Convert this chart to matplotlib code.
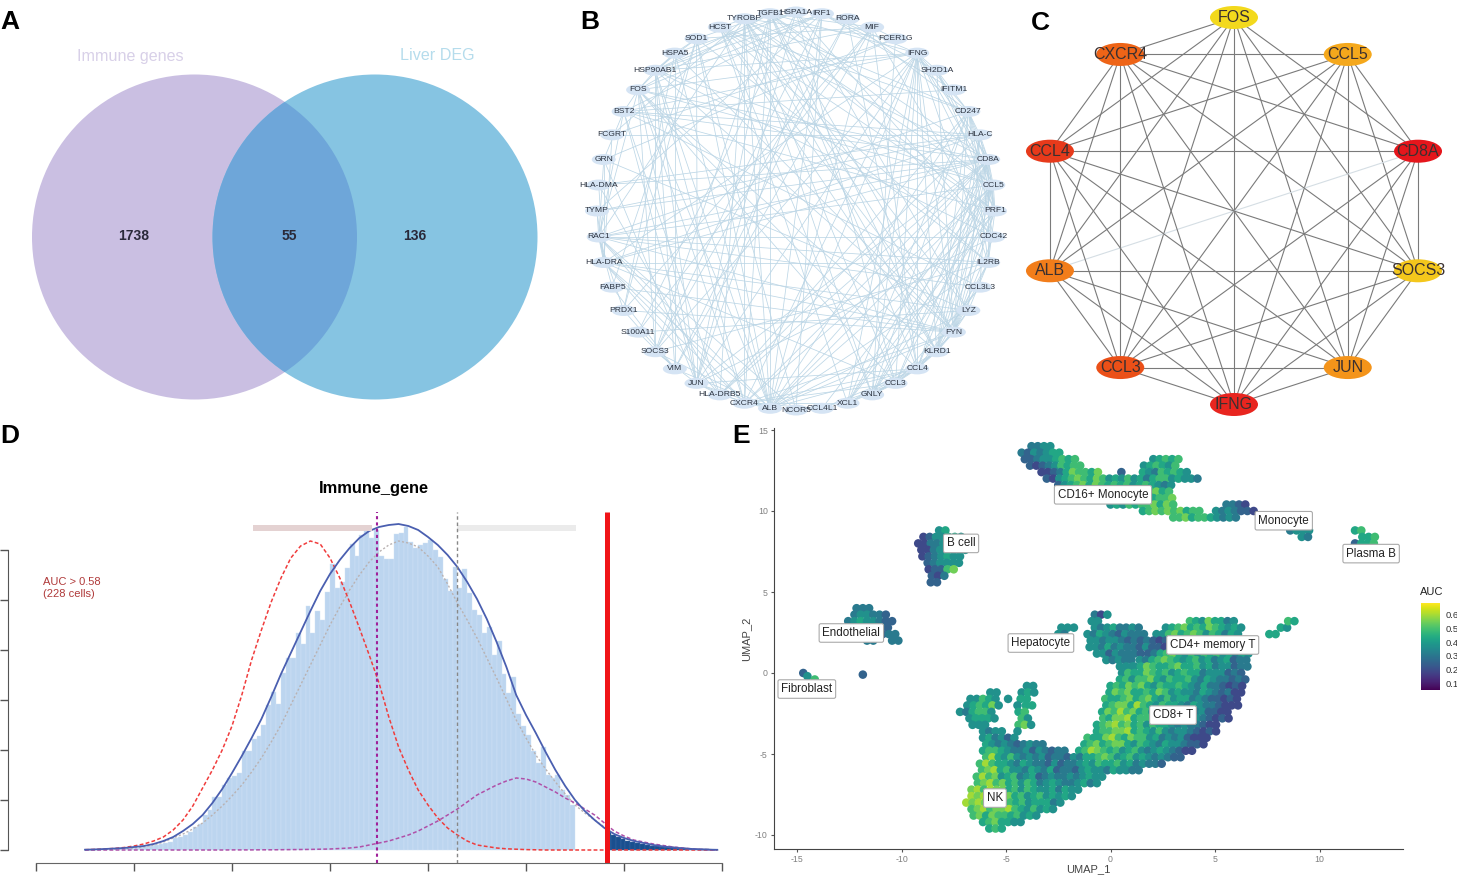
import numpy as np
import matplotlib
matplotlib.use('Agg')
import matplotlib.pyplot as plt
from matplotlib.patches import Circle, Ellipse
from itertools import combinations

plt.rcParams['font.family'] = ['Liberation Sans', 'DejaVu Sans']
plt.rcParams['axes.unicode_minus'] = False

W, H = 1457, 876

# --- A: venn ---
venn_labels = ['Immune genes', 'Liver DEG']
venn_counts = ['1738', '55', '136']

# --- B: PPI network ---
b_genes = ['HSPA1A', 'IRF1', 'RORA', 'MIF', 'FCER1G', 'IFNG', 'SH2D1A', 'IFITM1', 'CD247', 'HLA-C',
           'CD8A', 'CCL5', 'PRF1', 'CDC42', 'IL2RB', 'CCL3L3', 'LYZ', 'FYN', 'KLRD1', 'CCL4',
           'CCL3', 'GNLY', 'XCL1', 'CCL4L1', 'NCOR5', 'ALB', 'CXCR4', 'HLA-DRB5', 'JUN', 'VIM',
           'SOCS3', 'S100A11', 'PRDX1', 'FABP5', 'HLA-DRA', 'RAC1', 'TYMP', 'HLA-DMA', 'GRN', 'FCGRT',
           'BST2', 'FOS', 'HSP90AB1', 'HSPA5', 'SOD1', 'HCST', 'TYROBP', 'TGFB1']
b_edges = {
    'ALB': ['CXCR4', 'HLA-DRB5', 'JUN', 'SOCS3', 'FOS', 'TYROBP', 'HSP90AB1', 'IFNG', 'CD8A', 'CCL5', 'CCL4',
            'FYN', 'TGFB1', 'RAC1', 'HLA-DRA', 'CD247', 'PRF1', 'VIM', 'HSPA5', 'IL2RB', 'LYZ', 'MIF', 'SOD1', 'IRF1'],
    'CXCR4': ['JUN', 'FOS', 'CCL5', 'CCL4', 'CCL3', 'IFNG', 'CD8A', 'TGFB1', 'TYROBP', 'FYN', 'RAC1', 'HLA-DRA',
              'HSP90AB1', 'XCL1', 'CCL4L1'],
    'JUN': ['FOS', 'TGFB1', 'HSPA1A', 'HSP90AB1', 'BST2', 'CD8A', 'IFNG', 'IRF1', 'SOCS3', 'GRN', 'SOD1', 'CCL4',
            'CDC42', 'HLA-DRB5'],
    'HLA-DRB5': ['HLA-DRA', 'HLA-DMA', 'CD8A', 'CD247', 'HLA-C', 'TYROBP', 'BST2'],
    'TYROBP': ['FCER1G', 'HCST', 'KLRD1', 'FYN', 'GNLY', 'PRF1', 'CD247', 'LYZ', 'CCL5', 'FCGRT', 'RAC1', 'CCL3'],
    'TGFB1': ['IFNG', 'CCL5', 'CCL4', 'FOS', 'FYN', 'CDC42', 'SOD1', 'HSP90AB1', 'CD8A', 'SOCS3', 'MIF', 'KLRD1'],
    'HCST': ['KLRD1', 'CD247', 'FYN', 'IL2RB', 'PRF1', 'CD8A', 'GNLY', 'XCL1'],
    'HSP90AB1': ['HSPA5', 'HSPA1A', 'FOS', 'SOD1', 'CDC42', 'IFNG', 'CCL5', 'FYN', 'VIM', 'SOCS3', 'MIF', 'IRF1'],
    'HSPA5': ['HSPA1A', 'SOD1', 'FOS', 'VIM', 'FYN', 'PRDX1'],
    'BST2': ['IFITM1', 'IRF1', 'HLA-C', 'CD8A', 'FOS', 'GRN', 'IFNG', 'CCL3L3', 'PRF1', 'RAC1'],
    'FOS': ['IFNG', 'CD8A', 'CCL5', 'CCL4', 'IRF1', 'SOCS3', 'RAC1', 'KLRD1', 'CCL3'],
    'IFNG': ['CD8A', 'CCL5', 'CCL4', 'CCL3', 'PRF1', 'IL2RB', 'CD247', 'KLRD1', 'GNLY', 'SH2D1A', 'FYN', 'IRF1',
             'HLA-DRA', 'XCL1', 'SOCS3'],
    'CD8A': ['CD247', 'HLA-C', 'CCL5', 'PRF1', 'IL2RB', 'KLRD1', 'FYN', 'GNLY', 'SH2D1A', 'CCL4', 'CCL3', 'XCL1',
             'HLA-DRA', 'HLA-DMA', 'RAC1', 'TYMP', 'CCL3L3'],
    'CCL5': ['CCL4', 'CCL3', 'PRF1', 'CD247', 'KLRD1', 'XCL1', 'GNLY', 'IL2RB', 'FYN', 'SH2D1A', 'CCL4L1', 'RAC1'],
    'CD247': ['PRF1', 'KLRD1', 'FYN', 'IL2RB', 'GNLY', 'SH2D1A', 'HLA-C', 'XCL1', 'RORA', 'RAC1', 'CDC42'],
    'PRF1': ['KLRD1', 'GNLY', 'FYN', 'IL2RB', 'SH2D1A', 'HLA-C', 'XCL1'],
    'HLA-C': ['HLA-DRA', 'HLA-DMA', 'KLRD1', 'FYN', 'LYZ', 'TYMP', 'FCGRT'],
    'KLRD1': ['FYN', 'GNLY', 'IL2RB', 'XCL1', 'CCL4', 'CCL3', 'LYZ'],
    'FYN': ['CDC42', 'SH2D1A', 'IL2RB', 'LYZ', 'RAC1', 'CCL4', 'HLA-DRA', 'PRDX1', 'FABP5'],
    'CCL4': ['CCL3', 'XCL1', 'CCL4L1', 'CCL3L3', 'GNLY', 'MIF', 'RORA'],
    'CCL3': ['XCL1', 'CCL4L1', 'CCL3L3', 'GNLY', 'HLA-DRA', 'HSPA1A'],
    'RAC1': ['CDC42', 'TYMP', 'HLA-DRA', 'PRDX1', 'CCL3L3', 'FABP5', 'GRN', 'NCOR5', 'IL2RB'],
    'HLA-DRA': ['HLA-DMA', 'FCGRT', 'TYMP', 'GRN', 'IL2RB', 'LYZ'],
    'VIM': ['S100A11', 'PRDX1', 'FABP5', 'MIF', 'RORA'],
    'SOCS3': ['IL2RB', 'IRF1', 'RORA'],
    'MIF': ['CDC42', 'SOD1', 'FCER1G', 'PRDX1', 'S100A11'],
    'FCER1G': ['GRN', 'FCGRT', 'GNLY'],
    'IRF1': ['IFITM1', 'SH2D1A', 'TYMP', 'NCOR5'],
    'SOD1': ['PRDX1', 'IL2RB', 'FABP5', 'NCOR5'],
    'HSPA1A': ['CDC42', 'S100A11', 'LYZ'],
    'LYZ': ['GRN', 'IL2RB', 'S100A11'],
}

# --- C: hub genes, clockwise from the top ---
c_genes = ['FOS', 'CCL5', 'CD8A', 'SOCS3', 'JUN', 'IFNG', 'CCL3', 'ALB', 'CCL4', 'CXCR4']
c_colors = ['#f3d91d', '#f5a81c', '#e5161c', '#f4c71c', '#f4941a', '#e8251f', '#eb5018', '#f27d1a', '#e73a1b', '#ee6417']
c_missing = [('FOS', 'CCL5')]
c_pale = [('CD8A', 'ALB')]

# --- D: AUC histogram ---
bin_width = 0.005
hist_start = 0.05
hist_counts = [0, 0, 0, 0, 0.5, 0.5, 1, 1, 1.5, 2, 2, 3,
               3, 4, 5, 6, 7, 8, 12, 13, 15, 18, 23, 26, 35, 40, 53, 53, 65, 72,
               74, 77, 99, 99, 111, 114, 125, 145, 158, 146, 177, 192, 192, 217, 206, 244, 217, 239, 230, 258,
               286, 262, 268, 282, 306, 294, 315, 320, 312, 320, 294, 291, 291, 316, 317, 323, 308, 302, 305, 307,
               310, 300, 293, 271, 259, 283, 262, 281, 257, 240, 235, 217, 223, 195, 209, 176, 157, 173, 136, 124,
               115, 99, 87, 103, 75, 72, 75, 60, 55, 45]
dark_start = 0.5815
dark_counts = [18, 15, 13, 11, 9, 8, 7, 6, 5, 4, 4, 3, 3, 2, 2, 2, 1, 1, 1, 1, 1, 0.5, 0.5]

curve_x = [0.05, 0.06, 0.07, 0.08, 0.09, 0.10, 0.11, 0.12, 0.13, 0.14,
           0.15, 0.16, 0.17, 0.18, 0.19, 0.20, 0.21, 0.22, 0.23, 0.24,
           0.25, 0.26, 0.27, 0.28, 0.29, 0.30, 0.31, 0.32, 0.33, 0.34,
           0.35, 0.36, 0.37, 0.38, 0.39, 0.40, 0.41, 0.42, 0.43, 0.44,
           0.45, 0.46, 0.47, 0.48, 0.49, 0.50, 0.51, 0.52, 0.53, 0.54,
           0.55, 0.56, 0.57, 0.58, 0.59, 0.60, 0.61, 0.62, 0.63, 0.64,
           0.65, 0.66, 0.67, 0.68, 0.69, 0.695]
blue_curve = [0.3, 0.6, 1, 1.5, 2, 3, 4, 6, 9, 13,
              19, 26, 35, 47, 61, 77, 94, 112, 131, 153,
              176, 197, 218, 239, 259, 276, 290, 302, 312, 319,
              323, 325, 326, 324, 320, 313, 305, 295, 283, 268,
              251, 231, 208, 183, 155, 135, 117, 98, 80, 64,
              50, 39, 30, 22, 16, 12, 9, 7, 5, 3.5,
              2.5, 1.7, 1, 0.6, 0.3, 0.2]
red_curve = [0.3, 0.6, 1, 1.6, 2.5, 4, 6, 9, 13, 20,
             30, 44, 62, 80, 100, 124, 155, 190, 220, 248,
             272, 292, 304, 309, 306, 292, 272, 248, 222, 195,
             167, 133, 103, 80, 60, 45, 32, 22, 15, 9,
             5, 3.5, 2, 1.2, 0.8, 0.4, 0.2, 0, 0, 0,
             0, 0, 0, 0, 0, 0, 0, 0, 0, 0,
             0, 0, 0, 0, 0, 0]
purple_curve = [0, 0, 0, 0, 0, 0, 0, 0, 0, 0,
                0, 0, 0, 0, 0, 0.1, 0.1, 0.1, 0.2, 0.2,
                0.3, 0.4, 0.5, 0.6, 0.8, 1, 1.5, 2, 3, 5,
                7, 9, 12, 15, 19, 24, 29, 35, 41, 48,
                55, 60, 65, 69, 72, 71, 68, 63, 58, 52,
                47, 41, 35, 27, 19, 14, 10, 8, 6, 4.5,
                3, 2, 1, 0.5, 0.2, 0]
grey_curve = [0.3, 0.4, 0.6, 1, 1.5, 2, 3, 5, 8, 12,
              16, 21, 27, 35, 44, 54, 65, 78, 92, 108,
              125, 145, 165, 185, 205, 225, 243, 260, 275, 288,
              298, 305, 309, 307, 303, 294, 283, 266, 247, 230,
              212, 192, 172, 151, 130, 112, 95, 81, 68, 56,
              45, 37, 30, 23, 16, 12, 9, 7, 5, 4,
              3, 2, 1, 0.6, 0.3, 0]
auc_threshold = 0.5827
assign_low = 0.348
assign_high = 0.4296
y_ticks_d = [0, 50, 100, 150, 200, 250, 300]
x_ticks_d = [0, 0.1, 0.2, 0.3, 0.4, 0.5, 0.6, 0.7]

# --- E: UMAP, (y, first x, AUC digit per dot) ---
umap_rows = [
    # CD16+ monocyte
    (14.0, -3.93, "4455"), (13.6, -4.25, "4354566"), (13.2, -4.25, "334556767"), (13.2, 1.9, "56767"),
    (12.8, -3.85, "323457677"), (12.8, 1.6, "567657"), (12.4, -3.45, "2234687768"), (12.4, 0.37, "3"),
    (12.4, 1.4, "65476765"), (12.0, -3.05, "325678768756575"), (12.0, 1.45, "6467756"), (12.0, 3.56, "554"),
    (11.6, -2.65, "3567868767675676545"), (11.2, -0.8, "6757676567867"), (10.8, -0.2, "65767876778"),
    (10.4, 0.0, "56576778687"), (10.4, 5.55, "4432"), (10.0, 1.4, "6787878677"), (10.0, 4.9, "5454332"),
    (9.6, 3.0, "77867765454"),
    # monocyte, plasma B
    (8.8, 8.6, "4555"), (8.4, 9.0, "54"), (8.8, 11.7, "67"), (8.4, 11.9, "667"), (8.0, 11.7, "3667"),
    # B cell
    (8.8, -8.2, "56"), (8.4, -9.1, "2355665"), (8.0, -9.2, "22445665"), (7.6, -9.2, "22455655"),
    (7.2, -9.0, "2345655"), (6.8, -8.9, "345555"), (6.4, -8.7, "23378"), (6.0, -8.7, "324"), (5.6, -8.6, "33"),
    # endothelial
    (4.0, -12.15, "444"), (3.6, -12.4, "455443"), (3.2, -12.55, "45655433"), (2.8, -12.6, "5555543"),
    (2.4, -12.6, "555"), (2.4, -10.9, "344"), (2.0, -11.8, "44"), (2.0, -10.6, "44"), (-0.1, -11.85, "3"),
    # fibroblast
    (0.0, -14.7, "3"), (-0.2, -14.5, "5"), (-0.4, -14.3, "7"),
    # small pieces around the hepatocytes
    (3.6, -0.9, "425"), (3.2, -0.9, "55"), (2.8, -2.5, "555"), (2.4, -2.5, "54"),
    (2.4, 7.6, "66"), (2.8, 8.0, "65"), (3.2, 8.5, "76"),
    # hepatocyte + CD4/CD8 T
    (3.2, 3.8, "76586645"), (2.8, -0.9, "54564454"), (2.8, 2.5, "5678676876565"),
    (2.4, -1.1, "5465435444"), (2.4, 2.2, "55786787576465"),
    (2.0, -1.1, "55455434343234576757665645"), (1.6, -1.0, "5546454435332457667576564"),
    (1.2, -0.8, "55354443"), (1.2, 1.65, "34678657576756465"), (0.8, -0.2, "54544"),
    (0.8, 1.4, "546787656756456344"), (0.4, 0.3, "555"), (0.4, 1.0, "5687667866756455344"),
    (0.0, 0.55, "57668767567664555343"), (-0.4, 0.3, "675778657667546544343"),
    (-0.8, 0.0, "6768786576676546443232"), (-1.2, -0.2, "6878667687565546543422"),
    (-1.6, -0.25, "7667867865756645433232"), (-2.0, -0.35, "6788697657665465443222"),
    (-2.4, -0.4, "687978675767546453322"), (-2.8, -0.5, "768896775675655543232"),
    (-3.2, -0.65, "67897867576654544322"), (-3.6, -0.8, "67788967657545543232"),
    (-4.0, -1.1, "76689768775645453222"), (-4.4, -1.4, "67867886576546554332"),
    (-4.8, -1.5, "6798767567545654322"),
    # NK
    (-1.2, -5.9, "55"), (-1.6, -6.7, "55765"), (-2.0, -7.0, "567685"), (-2.4, -7.2, "546775"),
    (-2.8, -6.9, "56665"), (-3.2, -6.6, "555"), (-3.6, -6.25, "5455"), (-4.0, -6.1, "564535"),
    (-4.4, -6.1, "6545434544"), (-4.8, -6.1, "67765445354344"),
    (-5.2, -6.1, "79657545453443546678756756545433"), (-5.6, -6.25, "797665465443534456576675645443"),
    (-6.0, -6.3, "78967554654634435655465544"), (-6.4, -6.4, "797856745634544545655"),
    (-6.8, -6.5, "78978675764565445645"), (-7.2, -6.65, "897988675765564655"),
    (-7.6, -6.8, "98978786756756565"), (-8.0, -6.9, "9898768767566645"), (-8.4, -6.8, "78978897657565"),
    (-8.8, -6.55, "78687767565"), (-9.2, -6.25, "6786655"), (-9.6, -5.8, "676"),
    # strip beside the NK lobe
    (-0.8, -4.0, "55"), (-1.2, -4.4, "565"), (-1.6, -4.9, "5"), (-1.6, -4.3, "66"), (-2.0, -4.6, "5"),
    (-2.0, -4.2, "66"), (-2.4, -4.4, "67"), (-2.8, -4.4, "75"), (-3.2, -4.4, "785"), (-3.6, -4.6, "5"),
]
dot_step = 0.3
digit_auc = {'2': 0.19, '3': 0.25, '4': 0.31, '5': 0.37, '6': 0.43, '7': 0.49, '8': 0.55, '9': 0.60}
umap_labels = ['CD16+ Monocyte', 'Monocyte', 'Plasma B', 'B cell', 'Endothelial', 'Hepatocyte',
               'CD4+ memory T', 'Fibroblast', 'CD8+ T', 'NK']
umap_label_x = [-0.36, 8.29, 12.47, -7.15, -12.4, -3.33, 4.89, -14.53, 2.99, -5.53]
umap_label_y = [11.0, 9.4, 7.37, 8.0, 2.47, 1.85, 1.73, -0.99, -2.6, -7.72]


def panel(left, top, right, bottom):
    ax = fig.add_axes([left / W, 1 - bottom / H, (right - left) / W, (bottom - top) / H])
    ax.patch.set_alpha(0)
    return ax


fig = plt.figure(figsize=(W / 100, H / 100), dpi=100)

for letter, x, y in [('A', 0, 29), ('B', 580, 29), ('C', 1031, 30), ('D', 0, 443), ('E', 732, 443)]:
    fig.text(x / W, 1 - y / H, letter, fontsize=19, fontweight='bold', color='black', va='baseline')

# --- panel A ---
ax = panel(0, 0, 560, 420)
ax.set_xlim(0, 560)
ax.set_ylim(420, 0)
ax.axis('off')
left_c = Circle((194.5, 237), 162.5, color='#cabfe2', lw=0)
right_c = Circle((375, 237), 162.5, color='#86c4e2', lw=0)
ax.add_patch(left_c)
ax.add_patch(right_c)
over = Circle((194.5, 237), 162.5, color='#6ea6d9', lw=0)
ax.add_patch(over)
over.set_clip_path(Circle((375, 237), 162.5, transform=ax.transData))
ax.text(130, 56, venn_labels[0], color='#d8d0e8', fontsize=11.6, ha='center', va='center')
ax.text(437, 56, venn_labels[1], color='#b5dcec', fontsize=11.6, ha='center', va='center')
for label, x in zip(venn_counts, [134, 289.5, 415]):
    ax.text(x, 236.5, label, color='#2a2a3a', fontsize=10, fontweight='bold', ha='center', va='center')

# --- panel B ---
ax = panel(575, 0, 1015, 420)
ax.set_xlim(-221, 219)
ax.set_ylim(-209, 211)
ax.axis('off')
angles = np.arange(len(b_genes)) * 2 * np.pi / len(b_genes)
b_pos = {g: (199 * np.sin(a), 199 * np.cos(a)) for g, a in zip(b_genes, angles)}
for src, targets in b_edges.items():
    for tgt in targets:
        ax.plot([b_pos[src][0], b_pos[tgt][0]], [b_pos[src][1], b_pos[tgt][1]],
                color='#bcd6e6', lw=0.55, zorder=1)
for g in b_genes:
    ax.add_patch(Ellipse(b_pos[g], 24, 11, color='#d5e4f4', lw=0, zorder=2))
    ax.text(b_pos[g][0], b_pos[g][1], g, fontsize=6.1, color='#2b3340', ha='center', va='center', zorder=3)

# --- panel C ---
ax = panel(1020, 0, 1457, 420)
ax.set_xlim(-214, 223)
ax.set_ylim(-209, 211)
ax.axis('off')
angles = np.arange(len(c_genes)) * 2 * np.pi / len(c_genes)
c_pos = {g: (193.5 * np.sin(a), 193.5 * np.cos(a)) for g, a in zip(c_genes, angles)}
for a, b in combinations(c_genes, 2):
    if (a, b) in c_missing:
        continue
    col = '#d5dee4' if (a, b) in c_pale else '#7a7a7a'
    ax.plot([c_pos[a][0], c_pos[b][0]], [c_pos[a][1], c_pos[b][1]], color=col, lw=0.8, zorder=1)
for g, col in zip(c_genes, c_colors):
    ax.add_patch(Ellipse(c_pos[g], 48, 23, color=col, lw=0, zorder=2))
    ax.text(c_pos[g][0], c_pos[g][1], g, fontsize=11.5, color='#3a3030', ha='center', va='center', zorder=3)

# --- panel D ---
ax = panel(8, 505, 730, 863)
ax.set_xlim((8 - 36) / 980, (730 - 36) / 980)
ax.set_ylim(-13, 345)
light_left = hist_start + bin_width * np.arange(len(hist_counts))
dark_left = dark_start + bin_width * np.arange(len(dark_counts))
ax.bar(light_left, hist_counts, width=bin_width, align='edge', color='#bcd5ef', edgecolor='#d3e3f5', lw=0.3)
ax.bar(dark_left, dark_counts, width=bin_width, align='edge', color='#1a4f8f', edgecolor='#3a6aa5', lw=0.3)
ax.plot(curve_x, grey_curve, color='#b9b2b2', lw=1, ls=(0, (1.5, 1.5)))
ax.plot(curve_x, red_curve, color='#f03c3c', lw=1.1, ls=(0, (2.5, 1.5)))
ax.plot(curve_x, purple_curve, color='#b050a8', lw=1.1, ls=(0, (2.5, 1.5)))
ax.plot(curve_x, blue_curve, color='#4a5fb0', lw=1.3)
ax.hlines(322, 0.2214, 0.3429, color='#e4d2d2', lw=4.3)
ax.hlines(322, 0.4296, 0.551, color='#ebebeb', lw=4.3)
ax.vlines(assign_low, -13, 338, color='#a0209a', lw=1.5, ls=(0, (1.5, 1.5)))
ax.vlines(assign_high, -13, 338, color='#888888', lw=1, ls=(0, (2.5, 2)))
ax.vlines(auc_threshold, -13, 338, color='#f01418', lw=3.6)
ax.text(0.007, 262, 'AUC > 0.58\n(228 cells)', color='#b03a3a', fontsize=8, ha='left', va='center', linespacing=1.25)
ax.text((374 - 36) / 980, 362, 'Immune_gene', fontsize=11.8, fontweight='bold', ha='center', va='center',
        clip_on=False)
for side in ['top', 'right']:
    ax.spines[side].set_visible(False)
ax.spines['left'].set_bounds(0, 300)
ax.spines['bottom'].set_bounds(0, 0.7)
ax.spines['left'].set_color('#555555')
ax.spines['bottom'].set_color('#666666')
ax.set_xticks(x_ticks_d)
ax.set_yticks(y_ticks_d)
ax.tick_params(length=5.8, width=1, color='#555555', labelleft=False, labelbottom=False)

# --- panel E ---
ax = panel(774, 428, 1403, 849)
ax.set_xlim((774 - 1110.5) / 20.9, (1403 - 1110.5) / 20.9)
ax.set_ylim((673 - 849) / 16.2, (673 - 428) / 16.2)
dot_x, dot_y, dot_auc = [], [], []
for y, x0, digits in umap_rows:
    # every other row sits half a dot over, the cells pack like that in the picture
    shift = 0.15 * (int(round(y / 0.4)) % 2)
    for k, d in enumerate(digits):
        dot_x.append(x0 + k * dot_step + shift)
        dot_y.append(y)
        dot_auc.append(digit_auc[d])
sc = ax.scatter(dot_x, dot_y, c=dot_auc, cmap='viridis', vmin=0.049, vmax=0.688, s=38, lw=0)
for label, x, y in zip(umap_labels, umap_label_x, umap_label_y):
    ax.text(x, y, label, fontsize=8.4, color='#222222', ha='center', va='center',
            bbox=dict(boxstyle='round,pad=0.28,rounding_size=0.15', fc='white', ec='#aaaaaa', lw=0.8))
for side in ['top', 'right']:
    ax.spines[side].set_visible(False)
ax.spines['left'].set_color('#444444')
ax.spines['bottom'].set_color('#444444')
ax.set_xticks([-15, -10, -5, 0, 5, 10])
ax.set_yticks([-10, -5, 0, 5, 10, 15])
ax.tick_params(length=2.5, width=0.8, color='#555555', labelsize=6.3, labelcolor='#808080', pad=2)
ax.set_xlabel('UMAP_1', fontsize=8, color='#444444', labelpad=0)
ax.set_ylabel('UMAP_2', fontsize=8, color='#444444', labelpad=3)

cax = panel(1421, 603, 1440, 690)
cb = fig.colorbar(sc, cax=cax)
cb.set_ticks([0.1, 0.2, 0.3, 0.4, 0.5, 0.6])
cb.outline.set_visible(False)
cax.tick_params(length=0, labelsize=6.8, labelcolor='#333333', pad=4)
fig.text(1420 / W, 1 - 595 / H, 'AUC', fontsize=8, color='#222222', va='baseline')

fig.savefig('out.png', dpi=100)
